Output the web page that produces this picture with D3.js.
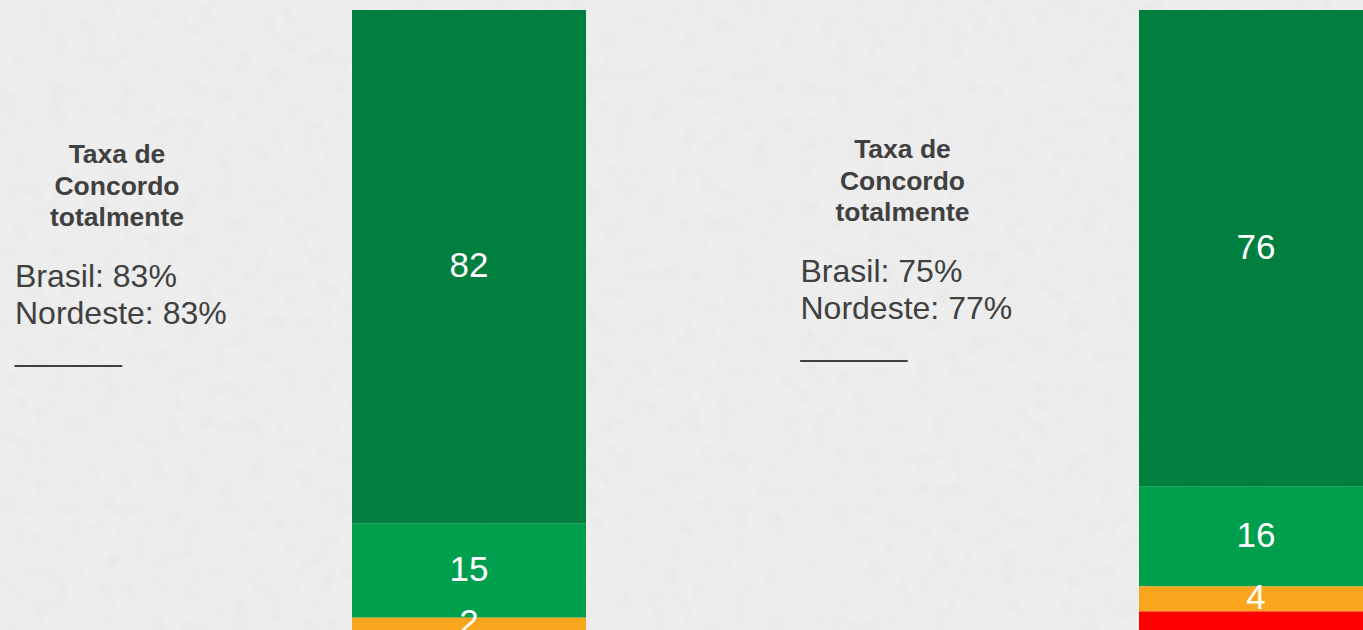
<!DOCTYPE html>
<html>
<head>
  <meta charset="utf-8">
  <script src="https://d3js.org/d3.v7.min.js"></script>
  <style>
    body { margin: 0; background: #ececec; overflow: hidden; }
    svg { display: block; }
    .note { fill: #404040; font-family: "Liberation Sans", Arial, sans-serif; }
    .lbl { fill: #fff; font-family: "Liberation Sans", Arial, sans-serif; font-size: 35px; }
  </style>
</head>
<body>
  <script>

  // two panels, stacked bar each (cut at bottom in the original slide)
  var panels = ["p1", "p2"];
  var keys = ["totalmente", "emParte", "discordoParte", "discordoTotal"];
  var totalmente    = [82, 76];
  var emParte       = [15, 16];
  var discordoParte = [2, 4];
  var discordoTotal = [1, 4];
  var brasil   = [83, 75];
  var nordeste = [83, 77];
  var titleLines = ["Taxa de", "Concordo", "totalmente"];

  var colors = ["#007f3f", "#009f4d", "#f9a61e", "#ff0000"];
  var showLabel = [true, true, true, false];

  var data = panels.map(function(p, i) {
    return { panel: p, totalmente: totalmente[i], emParte: emParte[i],
             discordoParte: discordoParte[i], discordoTotal: discordoTotal[i] };
  });

  var width = 1363, height = 630;

  var svg = d3.select("body").append("svg")
      .attr("width", width)
      .attr("height", height);

  // paper texture
  var defs = svg.append("defs");
  var f = defs.append("filter").attr("id", "paper")
      .attr("x", 0).attr("y", 0).attr("width", "100%").attr("height", "100%");
  f.append("feTurbulence").attr("type", "fractalNoise")
      .attr("baseFrequency", 0.06).attr("numOctaves", 4).attr("seed", 3);
  f.append("feColorMatrix").attr("type", "matrix")
      .attr("values", "0 0 0 0 0.5  0 0 0 0 0.5  0 0 0 0 0.5  0 0 0 -0.9 0.55");
  svg.append("rect").attr("width", width).attr("height", height).attr("fill", "#eeeeee");
  svg.append("rect").attr("width", width).attr("height", height)
      .attr("filter", "url(#paper)").attr("opacity", 0.22);

  var x = d3.scaleBand()
      .domain(panels)
      .range([0, 1574]);

  var barOffset = 352, barWidth = 234;

  var y = d3.scaleLinear()
      .domain([0, 100])
      .range([10, 636.5]);

  var series = d3.stack().keys(keys)(data);

  var layer = svg.selectAll("g.layer")
      .data(series)
      .enter().append("g")
      .attr("class", "layer")
      .attr("fill", function(d, i) { return colors[i]; });

  layer.selectAll("rect")
      .data(function(d) { return d; })
      .enter().append("rect")
      .attr("x", function(d) { return x(d.data.panel) + barOffset; })
      .attr("y", function(d) { return y(d[0]); })
      .attr("width", barWidth)
      .attr("height", function(d) { return y(d[1]) - y(d[0]); });

  layer.each(function(s, k) {
    if (!showLabel[k]) return;
    d3.select(this).selectAll("text")
      .data(s)
      .enter().append("text")
      .attr("class", "lbl")
      .attr("text-anchor", "middle")
      .attr("x", function(d) { return x(d.data.panel) + barOffset + barWidth / 2; })
      .attr("y", function(d) { return (y(d[0]) + y(d[1])) / 2; })
      .attr("dy", "0.3em")
      .text(function(d) { return d[1] - d[0]; });
  });

  // side notes
  var shiftX = [0, -1.5], shiftY = [0, -5];
  panels.forEach(function(p, i) {
    var g = svg.append("g")
        .attr("transform", "translate(" + (x(p) + shiftX[i]) + "," + shiftY[i] + ")");
    g.selectAll("text.t")
      .data(titleLines)
      .enter().append("text")
      .attr("class", "note t")
      .attr("x", 117)
      .attr("y", function(d, j) { return 163 + j * 31.5; })
      .attr("text-anchor", "middle")
      .style("font-size", "26.5px")
      .style("font-weight", "bold")
      .text(function(d) { return d; });
    var lines = ["Brasil: " + brasil[i] + "%", "Nordeste: " + nordeste[i] + "%", "______"];
    g.selectAll("text.n")
      .data(lines)
      .enter().append("text")
      .attr("class", "note n")
      .attr("x", 15)
      .attr("y", function(d, j) { return 287 + j * 37; })
      .style("font-size", "32px")
      .text(function(d) { return d; });
  });
  </script>
</body>
</html>
